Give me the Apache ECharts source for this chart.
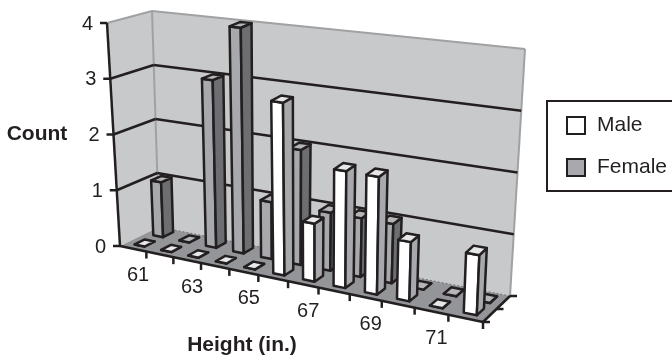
<!DOCTYPE html>
<html>
<head>
<meta charset="utf-8">
<script src="https://cdn.jsdelivr.net/npm/echarts@6/dist/echarts.min.js"></script>
<style>html,body{margin:0;padding:0;background:#fff}#main{width:672px;height:357px}</style>
</head>
<body>
<div id="main"></div>
<script>
var heights = ['61','62','63','64','65','66','67','68','69','70','71','72'];
var maleCounts = [0,0,0,0,0,3,1,2,2,1,0,1];
var femaleCounts = [1,0,3,4,1,2,1,1,1,0,0,0];
var valueTicks = [0,1,2,3,4];

var INK = '#231f20', FONT = '"Liberation Sans", Arial, sans-serif';

// corners of the drawn box, picture pixels
var FLB = [120,246], FLT = [107,23], BLB = [159,227], BLT = [152,11];
var FRB = [483,322], FRT = [493,82], BRB = [510,296], BRT = [525,49];
var PERSP = 1.16;

function mix(a, b, t) { return [a[0]+(b[0]-a[0])*t, a[1]+(b[1]-a[1])*t]; }

// u along heights, v up the counts, w into the depth (all 0..1)
function project(u, v, w) {
	var t = u / (u + PERSP * (1 - u));
	var bottom = mix(mix(FLB, FRB, t), mix(BLB, BRB, t), w);
	var top = mix(mix(FLT, FRT, t), mix(BLT, BRT, t), w);
	return mix(bottom, top, v);
}

function poly(points, fill) {
	return { type: 'polygon', shape: { points: points }, silent: true,
		style: { fill: fill, stroke: INK, lineWidth: 2.5, lineJoin: 'round' } };
}
function seg(a, b, color, width, dash) {
	return { type: 'line', shape: { x1: a[0], y1: a[1], x2: b[0], y2: b[1] }, silent: true,
		style: { stroke: color, lineWidth: width, lineDash: dash || null } };
}
function label(text, x, y, size, bold, align) {
	return { type: 'text', silent: true, style: { text: text, x: x, y: y, align: align || 'center', verticalAlign: 'middle',
		font: (bold ? 'bold ' : '') + size + 'px ' + FONT, fill: INK } };
}

function renderFrame(params, api) {
	var g = params.coordSys, band = api.size([1, 0])[0], kids = [];
	var vOf = function (val) { return (g.y + g.height - api.coord([0, val])[1]) / g.height; };
	var uEdge = function (i) { return (api.coord([i, 0])[0] - band / 2 - g.x) / g.width; };

	kids.push({ type: 'polygon', shape: { points: [FLB, FLT, BLT, BLB] }, silent: true, style: { fill: '#c8c9cb' } });
	kids.push({ type: 'polygon', shape: { points: [BLB, BLT, BRT, BRB] }, silent: true, style: { fill: '#c8c9cb' } });
	kids.push({ type: 'polygon', shape: { points: [FLB, BLB, BRB, FRB] }, silent: true, style: { fill: '#939598' } });

	kids.push(seg(BLB, BRB, '#6d6e71', 1, [2, 2]));
	kids.push(seg(FLT, BLT, '#a0a1a3', 2));
	kids.push(seg(BLT, BRT, '#a0a1a3', 2));
	kids.push(seg(BLT, BLB, '#a0a1a3', 2));
	kids.push(seg(BRT, BRB, '#a0a1a3', 2));

	valueTicks.forEach(function (val) {
		var v = vOf(val), a = project(0, v, 0), b = project(0, v, 1), c = project(1, v, 1);
		if (val > 0 && val < 4) {
			kids.push(seg(a, b, INK, 2.5));
			kids.push(seg(b, c, INK, 2.5));
		}
		kids.push(seg([a[0] - 7, a[1]], a, INK, 2.5));
		kids.push(label(String(val), a[0] - 14, a[1] + 1, 20, false, 'right'));
	});

	kids.push(seg(project(0, 0, 0), project(0, 1, 0), INK, 2.5));
	kids.push(seg(FLB, FRB, INK, 2.5));
	kids.push(seg(FRB, BRB, INK, 2.5));
	[0, 0.5, 1].forEach(function (w) {
		var p = project(1, 0, w);
		kids.push(seg(p, [p[0] + 7, p[1]], INK, 2.5));
	});
	for (var i = 1; i <= 12; i++) {
		var p = project(i < 12 ? uEdge(i) : 1, 0, 0);
		kids.push(seg(p, [p[0], p[1] + 7], INK, 2.5));
	}
	heights.forEach(function (h, i) {
		if (i % 2) return;
		var p = project((uEdge(i) + uEdge(i + 1)) / 2, 0, 0);
		kids.push(label(h, p[0] + 5, p[1] + 27, 20));
	});
	kids.push(label('Count', 37, 134, 21, true));
	kids.push(label('Height (in.)', 242, 345, 21, true));
	return { type: 'group', children: kids };
}

function barRenderer(depth, front, side, top) {
	return function (params, api) {
		var g = params.coordSys, band = api.size([1, 0])[0];
		var c = api.coord([api.value(0), api.value(1)]);
		var u0 = (c[0] - band * 0.19 - g.x) / g.width, u1 = (c[0] + band * 0.19 - g.x) / g.width;
		var v = (g.y + g.height - c[1]) / g.height;
		var w0 = depth - 0.13, w1 = depth + 0.13;
		return { type: 'group', children: [
			poly([project(u0, 0, w0), project(u1, 0, w0), project(u1, v, w0), project(u0, v, w0)], front),
			poly([project(u1, 0, w0), project(u1, 0, w1), project(u1, v, w1), project(u1, v, w0)], side),
			poly([project(u0, v, w0), project(u1, v, w0), project(u1, v, w1), project(u0, v, w1)], top)
		] };
	};
}

function toPairs(list) { return list.map(function (n, i) { return [i, n]; }); }

var myChart = echarts.init(document.getElementById('main'));
myChart.setOption({
	animation: false,
	grid: { left: 100, right: 150, top: 20, bottom: 40 },
	xAxis: { type: 'category', data: heights, show: false },
	yAxis: { type: 'value', min: 0, max: 4, interval: 1, show: false },
	legend: {
		orient: 'vertical', left: 547, top: 101, backgroundColor: '#fff',
		borderColor: INK, borderWidth: 2, padding: [14, 12, 13, 19], itemGap: 21,
		itemWidth: 18, itemHeight: 17,
		textStyle: { fontFamily: FONT, fontSize: 21, color: INK, padding: [0, 0, 0, 7] },
		data: [
			{ name: 'Male', icon: 'rect', itemStyle: { color: '#fff', borderColor: INK, borderWidth: 2 } },
			{ name: 'Female', icon: 'rect', itemStyle: { color: '#a7a9ac', borderColor: INK, borderWidth: 2 } }
		]
	},
	series: [
		{ type: 'custom', name: 'frame', data: [[0, 0]], encode: { x: 0, y: 1 }, clip: false, renderItem: renderFrame, z: 1 },
		{ type: 'custom', name: 'Female', data: toPairs(femaleCounts), encode: { x: 0, y: 1 }, clip: false,
			itemStyle: { color: '#a7a9ac' }, renderItem: barRenderer(0.78, '#a7a9ac', '#6d6e71', '#b5b6b8'), z: 2 },
		{ type: 'custom', name: 'Male', data: toPairs(maleCounts), encode: { x: 0, y: 1 }, clip: false,
			itemStyle: { color: '#fff' }, renderItem: barRenderer(0.3, '#fff', '#a7a9ac', '#e6e7e8'), z: 3 }
	]
});
</script>
</body>
</html>
